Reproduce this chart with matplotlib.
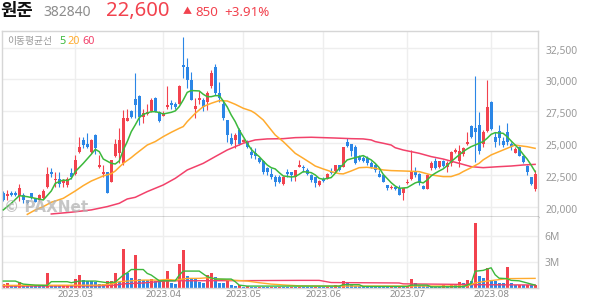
import numpy as np
import matplotlib.pyplot as plt
from matplotlib.transforms import ScaledTranslation

# ---- header ----
name = "원준"
code = "382840"
last_price = "22,600"
change = "850"
change_pct = "+3.91%"

# ---- daily candles (2023-02 ~ 2023-08) ----
opens = [21100, 20800, 21050, 21100, 20800, 20950, 20500, 21050, 20650, 20500,
         20650, 21550, 22700, 22100, 22200, 21850, 21700, 22650, 22600, 24300,
         25250, 24950, 24300, 25600, 23100, 22600, 22750, 21950, 24000, 24200,
         23400, 26750, 27500, 28450, 28700, 27050, 27300, 27500, 28500, 27450,
         27150, 27850, 28150, 28050, 28100, 31150, 31000, 29950, 27700, 28400,
         28400, 28250, 29450, 31000, 28900, 28100, 26800, 25400, 25250, 26000,
         25100, 25100, 24300, 24250, 23850, 23550, 23000, 22600, 22350, 22350,
         21750, 22750, 22750, 22350, 23150, 23150, 22900, 22500, 22300, 21700,
         22150, 22200, 22750, 22800, 23250, 23150, 25100, 24900, 24700, 23900,
         23800, 23800, 23400, 23250, 22600, 22500, 21700, 21450, 21550, 21450,
         21050, 21850, 22150, 22750, 22600, 21650, 21400, 23000, 23550, 23150,
         23600, 23150, 23400, 24300, 23550, 24100, 24900, 26350, 26150, 26450,
         24950, 25950, 28250, 25500, 25950, 25150, 25900, 24950, 24250, 24700,
         24000, 23200, 22300, 21400]
highs = [21200, 21300, 21200, 21250, 21800, 21050, 20550, 21100, 20700, 21000,
         21350, 23150, 23000, 22750, 22750, 22200, 22350, 23000, 24050, 25450,
         25450, 25750, 25350, 25700, 24050, 23250, 22750, 23700, 25350, 26150,
         27600, 27650, 27600, 30500, 28750, 27650, 28100, 28500, 28650, 27500,
         27500, 29500, 28400, 28250, 29550, 33300, 31650, 30600, 28500, 29050,
         28500, 29050, 30750, 31200, 29800, 28400, 26800, 25750, 25750, 26150,
         25300, 25250, 24700, 24600, 23900, 23650, 23150, 23000, 22500, 22500,
         22400, 22950, 22750, 22900, 23650, 23250, 23000, 22600, 22350, 22100,
         22300, 22650, 23050, 23250, 23300, 24700, 25400, 24950, 24850, 24050,
         24000, 23950, 23550, 23400, 22900, 22550, 21700, 21700, 21650, 21700,
         21500, 22200, 24450, 23150, 22650, 21700, 22550, 23550, 23850, 23600,
         23700, 23550, 24350, 24600, 24850, 24650, 25900, 26450, 30300, 27450,
         26000, 29950, 28300, 25900, 26450, 25500, 26550, 25100, 24650, 24750,
         24050, 23300, 22350, 22900]
lows = [20450, 20500, 20800, 20850, 20450, 20250, 20200, 20600, 20350, 20450,
        20600, 21500, 22350, 21550, 21550, 21550, 21550, 22200, 22500, 24200,
        24600, 24600, 24200, 24150, 23000, 22350, 21050, 21900, 23900, 23400,
        23250, 26700, 27000, 26950, 26400, 26550, 27200, 27450, 27400, 26650,
        27100, 27700, 27700, 27700, 28050, 30100, 29300, 28400, 26950, 28100,
        27500, 27600, 29300, 28750, 28250, 26800, 25100, 24850, 24600, 24850,
        25050, 24600, 23800, 23750, 23450, 22600, 22500, 22200, 21650, 21850,
        21700, 22350, 22050, 22050, 23100, 22750, 22500, 21950, 21550, 21650,
        21900, 22150, 22600, 22750, 22800, 23100, 24700, 24000, 23350, 23600,
        23500, 23250, 23000, 22750, 22350, 21950, 21300, 21400, 21300, 20900,
        20500, 21750, 22100, 22350, 21700, 21350, 21400, 22900, 22950, 23050,
        23150, 22700, 23200, 24200, 23150, 24000, 24850, 25400, 23500, 24100,
        24700, 25850, 26000, 24700, 24850, 24700, 24850, 24450, 24200, 23950,
        23450, 22450, 21700, 21250]
closes = [20500, 21000, 20900, 20950, 21450, 20500, 20250, 20650, 20400, 20950,
          21250, 22600, 22550, 22200, 21800, 22100, 22150, 22350, 23650, 24700,
          24850, 24650, 25250, 24600, 23250, 22750, 21100, 23650, 24900, 25250,
          26950, 27000, 27050, 28000, 27050, 27350, 27450, 28400, 27450, 26750,
          27350, 28000, 28000, 27800, 29500, 31000, 29950, 28400, 27900, 28550,
          27850, 28900, 30500, 28900, 28500, 26950, 25650, 24950, 25650, 24950,
          25250, 24700, 24050, 23950, 23500, 22750, 22700, 22350, 21950, 21950,
          22350, 22600, 22500, 22900, 23250, 23000, 22600, 22100, 21850, 22050,
          22050, 22600, 22650, 23250, 22850, 24650, 24750, 24350, 23400, 23650,
          23550, 23400, 23150, 22900, 22350, 21950, 21500, 21550, 21400, 20950,
          21450, 21950, 22750, 22500, 21850, 21400, 22500, 23400, 23000, 23550,
          23200, 23400, 24300, 24450, 24400, 24600, 25100, 25500, 25900, 24350,
          25900, 27850, 26100, 25050, 25400, 24850, 25100, 24650, 24550, 24000,
          23500, 22750, 21750, 22600]

# volume in millions of shares
volumes = [0.42, 0.58, 0.23, 0.20, 0.70, 0.27, 0.19, 0.18, 0.17, 0.16,
           0.15, 1.73, 0.30, 0.28, 0.27, 0.30, 0.33, 0.30, 1.00, 1.42,
           0.85, 0.77, 0.73, 0.69, 0.46, 0.42, 0.73, 0.77, 1.70, 0.69,
           4.42, 1.73, 1.12, 3.77, 0.96, 0.88, 0.85, 1.05, 0.80, 0.77,
           0.85, 1.96, 0.58, 0.42, 2.73, 4.35, 1.38, 1.00, 0.98, 0.70,
           0.58, 1.50, 1.73, 1.27, 0.60, 0.50, 0.77, 0.35, 0.20, 0.30,
           0.12, 0.15, 0.10, 0.09, 0.12, 0.10, 0.08, 0.10, 0.09, 0.12,
           0.10, 0.09, 0.11, 0.10, 0.12, 0.10, 0.09, 0.08, 0.10, 0.09,
           0.08, 0.10, 0.09, 0.30, 0.20, 0.77, 0.58, 0.27, 0.25, 0.22,
           0.20, 0.18, 0.17, 0.16, 0.15, 0.14, 0.13, 0.15, 0.12, 0.14,
           0.13, 0.20, 1.00, 0.58, 0.20, 0.18, 0.16, 0.15, 0.14, 0.13,
           0.27, 0.20, 0.42, 0.30, 0.70, 0.50, 0.88, 0.77, 7.43, 1.35,
           1.15, 2.23, 0.89, 0.77, 0.58, 0.50, 2.42, 0.50, 0.30, 0.36,
           0.28, 0.34, 0.30, 0.32]

# moving averages (candle index, value)
ma5_idx = [0, 2, 4, 6, 8, 10, 12, 13, 15, 16, 17, 18, 20, 22, 23, 24, 25, 27, 28, 29,
           30, 31, 32, 33, 34, 35, 37, 38, 39, 40, 42, 43, 44, 45, 46, 47, 49, 50, 51, 52,
           53, 54, 55, 56, 57, 58, 59, 60, 61, 62, 63, 64, 65, 66, 67, 68, 69, 70, 72, 73,
           74, 75, 77, 78, 79, 80, 82, 83, 84, 85, 86, 88, 89, 90, 92, 93, 94, 95, 97, 98,
           99, 101, 103, 104, 105, 106, 107, 108, 109, 110, 111, 112, 113, 115, 116, 117, 118, 119, 120, 121,
           122, 123, 125, 126, 127, 128, 129, 130, 131, 132, 133]
ma5_val = [19740, 20260, 20860, 20780, 20650, 20520, 21230, 21830, 22090, 22040, 22220, 22750, 23400, 24110, 24500, 24320, 23740, 23400, 23350, 23590,
           24450, 25110, 25890, 26420, 26990, 27250, 27460, 27460, 27390, 27280, 27410, 27520, 27860, 28380, 28980, 29120, 29090, 28830, 28640, 28640,
           28720, 28720, 28300, 27830, 27200, 26680, 26020, 25500, 24980, 24500, 24190, 23930, 23590, 23270, 23060, 22960, 22670, 22410, 22330, 22360,
           22540, 22750, 22670, 22490, 22220, 22150, 22280, 22620, 23010, 23320, 23670, 23850, 23930, 24010, 23670, 23400, 23060, 22540, 21880, 21620,
           21440, 21490, 21860, 21960, 21860, 22090, 22410, 22620, 22800, 22960, 23220, 23530, 23800, 24320, 24530, 24710, 24840, 24980, 25110, 25370,
           25680, 25810, 25760, 25500, 25160, 24840, 24530, 24110, 23740, 23270, 22750]
ma20_idx = [6, 8, 10, 12, 15, 18, 20, 22, 25, 27, 28, 30, 32, 33, 36, 38, 40, 42, 44, 45,
            46, 48, 50, 52, 54, 56, 58, 60, 62, 63, 65, 67, 68, 70, 72, 73, 75, 77, 78, 80,
            82, 84, 85, 87, 89, 91, 93, 95, 97, 100, 104, 107, 110, 112, 114, 115, 117, 119, 120, 122,
            124, 125, 127, 128, 129, 131, 133]
ma20_val = [19390, 19740, 20000, 20340, 20650, 21230, 21650, 22010, 22410, 22590, 22800, 23400, 23850, 24110, 24840, 25110, 25500, 25840, 26150, 26290,
            26680, 27330, 27860, 28120, 28330, 28300, 28040, 27730, 27520, 27330, 26810, 26020, 25630, 25110, 24500, 24190, 23800, 23400, 23190, 22960,
            22750, 22590, 22570, 22800, 23060, 23090, 23010, 22880, 22830, 22800, 22750, 22490, 22360, 22360, 22570, 22750, 23060, 23400, 23670, 24060,
            24320, 24450, 24710, 24840, 24790, 24710, 24580]
ma60_idx = [12, 17, 22, 26, 29, 31, 33, 36, 40, 43, 46, 50, 53, 56, 60, 63, 66, 70, 73, 77,
            80, 83, 87, 90, 92, 93, 95, 97, 98, 100, 104, 107, 110, 114, 117, 120, 124, 127, 130, 133]
ma60_val = [19420, 19560, 19740, 20000, 20260, 20600, 20730, 21180, 21700, 22220, 22880, 23400, 23930, 24450, 24980, 25240, 25320, 25340, 25420, 25450,
            25420, 25390, 25340, 25320, 25240, 25110, 24980, 24840, 24630, 24450, 24190, 23930, 23740, 23400, 23140, 23060, 23140, 23190, 23270, 23320]

# volume moving averages (millions)
vma5_idx = [0, 3, 5, 8, 11, 12, 16, 17, 19, 23, 26, 28, 30, 31, 32, 35, 36, 37, 39, 43,
            44, 45, 49, 51, 53, 57, 58, 59, 61, 84, 85, 89, 90, 101, 102, 106, 107, 115, 116, 117,
            118, 120, 121, 122, 123, 124, 126, 127, 129, 131, 133]
vma5_val = [0.77, 0.77, 0.42, 0.30, 0.27, 0.70, 0.70, 0.58, 0.77, 0.77, 0.58, 0.65, 1.46, 1.73, 2.10, 2.10, 1.65, 1.46, 0.80, 0.80,
            1.46, 1.92, 1.92, 1.27, 1.00, 1.00, 0.70, 0.30, 0.19, 0.19, 0.35, 0.35, 0.15, 0.15, 0.30, 0.30, 0.10, 0.12, 0.30, 0.50,
            1.90, 2.00, 2.15, 2.30, 1.50, 1.10, 1.05, 0.85, 0.80, 0.55, 0.30]
vma20_idx = [0, 24, 27, 29, 32, 35, 39, 41, 43, 46, 49, 51, 54, 57, 61, 64, 67, 71, 74, 80,
             116, 118, 120, 123, 126, 133]
vma20_val = [0.27, 0.30, 0.42, 0.70, 0.80, 0.88, 0.88, 0.96, 0.88, 1.08, 1.08, 1.15, 1.00, 0.88, 0.77, 0.58, 0.42, 0.30, 0.22, 0.19,
             0.20, 0.55, 0.70, 0.88, 1.05, 1.08]
vma60_idx = [0, 24, 28, 30, 35, 41, 60, 74, 79, 82, 99, 100, 116, 118, 133]
vma60_val = [0.19, 0.22, 0.30, 0.45, 0.55, 0.80, 0.82, 0.85, 0.85, 0.60, 0.55, 0.45, 0.38, 0.35, 0.32]

month_pos = [18, 40, 60, 80, 101, 122]
month_labels = ["2023.03", "2023.04", "2023.05", "2023.06", "2023.07", "2023.08"]
price_ticks = [20000, 22500, 25000, 27500, 30000, 32500]
vol_ticks = [3, 6]

RED = "#f2424e"
BLUE = "#2b86e6"
GREEN = "#3cb93c"
ORANGE = "#ffab2e"
PINK = "#f2416a"
GRID = "#eeeeee"
FRAME = "#d6d6d6"
LABEL = "#999999"

W, H = 594, 304
fig = plt.figure(figsize=(W / 100, H / 100), dpi=100)


def box(x0, y0, x1, y1):
    return [x0 / W, 1 - y1 / H, (x1 - x0) / W, (y1 - y0) / H]


ax = fig.add_axes(box(2, 31, 537.5, 217.3))
axv = fig.add_axes(box(2, 217.3, 537.5, 288))

x = np.arange(len(closes))
o = np.array(opens)
c = np.array(closes)
h = np.array(highs)
l = np.array(lows)
ccol = np.where(c >= o, RED, BLUE)

# candles
ax.vlines(x, l, h, colors=ccol, linewidth=0.8, zorder=2)
ax.bar(x, np.maximum(np.abs(c - o), 70), bottom=np.minimum(o, c), width=0.72,
       color=ccol, linewidth=0, zorder=2)

ax.plot(ma60_idx, ma60_val, color=PINK, lw=1.1, zorder=3)
ax.plot(ma20_idx, ma20_val, color=ORANGE, lw=1.1, zorder=3)
ax.plot(ma5_idx, ma5_val, color=GREEN, lw=1.1, zorder=4)

# volume bars: red when volume grew versus the previous day
v = np.array(volumes)
vcol = [RED] + [RED if v[i] > v[i - 1] else BLUE for i in range(1, len(v))]
axv.bar(x, v, width=0.72, color=vcol, linewidth=0, zorder=2)
axv.plot(vma60_idx, vma60_val, color=PINK, lw=1.0, zorder=3)
axv.plot(vma20_idx, vma20_val, color=ORANGE, lw=1.0, zorder=3)
axv.plot(vma5_idx, vma5_val, color=GREEN, lw=1.0, zorder=4)

for a in (ax, axv):
    a.set_xlim(-0.33, 133.6)
    a.set_xticks(month_pos)
    a.grid(True, color=GRID, lw=1, zorder=0)
    a.set_axisbelow(True)
    a.yaxis.tick_right()
    a.tick_params(length=0, colors=LABEL, labelsize=7.4)
    for s in ("left", "right", "top", "bottom"):
        a.spines[s].set_color(FRAME)
        a.spines[s].set_linewidth(1)

ax.set_ylim(19159, 33802)
ax.set_yticks(price_ticks)
ax.set_yticklabels([f"{t:,}" for t in price_ticks], fontfamily="Noto Sans")
ax.tick_params(axis="y", pad=6)
ax.set_xticklabels([])
ax.spines["bottom"].set_color("#333333")

axv.set_ylim(-0.03, 8.12)
axv.set_yticks(vol_ticks)
axv.set_yticklabels([f"{t}M" for t in vol_ticks], fontfamily="Noto Sans")
axv.tick_params(axis="y", pad=5)
axv.spines["top"].set_visible(False)
axv.set_xticklabels(month_labels, fontfamily="Noto Sans", fontsize=7.0, color="#8c8c8c")
axv.tick_params(axis="x", pad=1.5)

shift = ScaledTranslation(0, -2 / 100, fig.dpi_scale_trans)
for t in ax.get_yticklabels():
    t.set_transform(t.get_transform() + shift)


def ftext(px, py, s, **kw):
    fig.text(px / W, 1 - py / H, s, va="center", ha="left", **kw)


kr = ["Noto Sans CJK KR", "DejaVu Sans"]
ftext(0, 11, name, fontsize=12.8, fontweight="bold", family=kr, color="#111111")
ftext(43, 12.5, code, fontsize=10, family="Noto Sans", color="#8c8c8c")
ftext(106, 11, last_price, fontsize=14.6, family="Noto Sans", color=RED)
ftext(183, 12, "▲", fontsize=6.5, family=kr, color=RED)
ftext(195, 12.5, change, fontsize=9.6, family="Noto Sans", color=RED)
ftext(224, 12.5, change_pct, fontsize=9.6, family="Noto Sans", color=RED)

ftext(7, 41, "이동평균선", fontsize=7.0, family=kr, color=LABEL)
ftext(59, 41, "5", fontsize=7.8, family="Noto Sans", color=GREEN)
ftext(67, 41, "20", fontsize=7.8, family="Noto Sans", color=ORANGE)
ftext(82, 41, "60", fontsize=7.8, family="Noto Sans", color=PINK)

# watermark
ftext(4, 207, "© PAXNet", fontsize=11, fontweight="bold", family="DejaVu Sans",
      color="#b4b4b4", alpha=0.75, zorder=5)

fig.savefig("out.png", dpi=100, facecolor="white")
